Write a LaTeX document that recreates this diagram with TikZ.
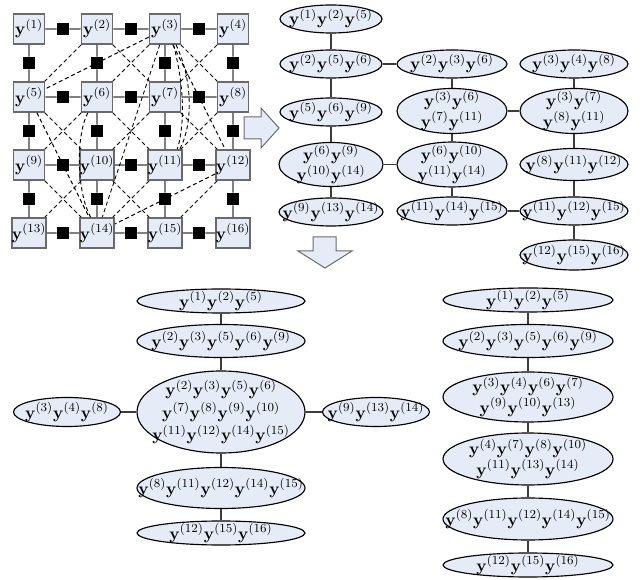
\documentclass[tikz,border=0pt]{standalone}
\usepackage{amsmath}
\usetikzlibrary{shapes.geometric,calc}
\definecolor{nodefill}{HTML}{E6ECF7}
\definecolor{boxline}{HTML}{6A6A6A}
\definecolor{edgegray}{HTML}{3C3C3C}
\newcommand{\yv}[1]{\mathbf{y}^{(#1)}}
\begin{document}
\begin{tikzpicture}[x=0.653pt,y=-0.653pt,
  px/.style 2 args={minimum width=#1*0.653pt, minimum height=#2*0.653pt},
  labelfont/.style={font=\fontsize{10.95}{12}\selectfont},
  var/.style={draw=boxline, line width=1pt, fill=nodefill, inner sep=0pt, px={31}{30}, labelfont},
  fac/.style={fill=black, inner sep=0pt, px={12}{12}},
  link/.style={draw=edgegray, line width=0.85pt},
  fill edge/.style={draw=black, line width=0.6pt, dash pattern=on 2.6pt off 1.9pt},
  clq/.style={ellipse, draw=black, line width=0.75pt, fill=nodefill, inner sep=0pt},
  cltext/.style={align=center, inner sep=0pt, labelfont},
  tree/.style={draw=edgegray, line width=0.85pt},
  bigarrow/.style={draw=boxline, line width=0.65pt, fill=nodefill}
]
\useasboundingbox (0,0) rectangle (644,580);

% ---- grid of variables with pairwise factors ----
\foreach \r in {0,...,3}
  \foreach \c in {1,...,4} {
    \pgfmathtruncatemacro\k{4*\r+\c}
    \node[var] (g\k) at ({29+68*(\c-1)},{29+68*\r}) {$\yv{\k}$};
  }
\foreach \r in {0,...,3}
  \foreach \c in {1,2,3} {
    \pgfmathtruncatemacro\a{4*\r+\c}
    \pgfmathtruncatemacro\b{\a+1}
    \node[fac] (fh\a) at ($(g\a)!0.5!(g\b)$) {};
    \draw[link] (g\a) -- (fh\a) -- (g\b);
  }
\foreach \r in {0,1,2}
  \foreach \c in {1,...,4} {
    \pgfmathtruncatemacro\a{4*\r+\c}
    \pgfmathtruncatemacro\b{\a+4}
    \node[fac] (fv\a) at ($(g\a)!0.5!(g\b)$) {};
    \draw[link] (g\a) -- (fv\a) -- (g\b);
  }

% ---- fill-in edges ----
\foreach \a/\b in {2/5,3/5,2/7,3/6,3/14,3/8,3/12,4/7,5/10,5/14,6/9,6/11,7/10,7/12,8/11,9/14,10/13,10/15,11/14,12/14,12/15}
  \draw[fill edge] (g\a) -- (g\b);
\draw[fill edge] (g3.-62) .. controls (183,80) and (186,120) .. (g11.52);
\draw[fill edge] (g3.-55) .. controls (193,80) and (193,125) .. (g11.47);
\draw[fill edge] (g6.-120) .. controls (76,135) and (76,190) .. (g14.112);

% ---- block arrows ----
\draw[bigarrow] (244,117) -- (261,117) -- (261,108) -- (279,128) -- (261,148) -- (261,139) -- (244,139) -- cycle;
\draw[bigarrow] (313,237) -- (336,237) -- (336,251) -- (352,251) -- (325,268) -- (298,251) -- (313,251) -- cycle;

% ---- first clique tree ----
\node[clq, px={102}{28}, label={[cltext]center:{$\yv{1}\yv{2}\yv{5}$}}] (tA1) at (331,19) {};
\node[clq, px={102}{28}, label={[cltext]center:{$\yv{2}\yv{5}\yv{6}$}}] (tA2) at (331,64) {};
\node[clq, px={102}{28}, label={[cltext]center:{$\yv{5}\yv{6}\yv{9}$}}] (tA3) at (331,112) {};
\node[clq, px={104}{44}, label={[cltext]center:{$\yv{6}\yv{9}$\\$\yv{10}\yv{14}$}}] (tA4) at (331,164.5) {};
\node[clq, px={104}{28}, label={[cltext]center:{$\yv{9}\yv{13}\yv{14}$}}] (tA5) at (331,212) {};

\node[clq, px={110}{28}, label={[cltext]center:{$\yv{2}\yv{3}\yv{6}$}}] (tB1) at (452,64) {};
\node[clq, px={110}{45}, label={[cltext]center:{$\yv{3}\yv{6}$\\$\yv{7}\yv{11}$}}] (tB2) at (452,111) {};
\node[clq, px={110}{45}, label={[cltext]center:{$\yv{6}\yv{10}$\\$\yv{11}\yv{14}$}}] (tB3) at (452,164.5) {};
\node[clq, px={110}{28}, label={[cltext]center:{$\yv{11}\yv{14}\yv{15}$}}] (tB4) at (452,211) {};

\node[clq, px={108}{28}, label={[cltext]center:{$\yv{3}\yv{4}\yv{8}$}}] (tC1) at (574,64) {};
\node[clq, px={108}{45}, label={[cltext]center:{$\yv{3}\yv{7}$\\$\yv{8}\yv{11}$}}] (tC2) at (574,111) {};
\node[clq, px={108}{32}, label={[cltext]center:{$\yv{8}\yv{11}\yv{12}$}}] (tC3) at (574,164.5) {};
\node[clq, px={108}{28}, label={[cltext]center:{$\yv{11}\yv{12}\yv{15}$}}] (tC4) at (574,211) {};
\node[clq, px={108}{30}, label={[cltext]center:{$\yv{12}\yv{15}\yv{16}$}}] (tC5) at (574,255) {};

\draw[tree] (tA1) -- (tA2) -- (tA3) -- (tA4) -- (tA5);
\draw[tree] (tB1) -- (tB2) -- (tB3) -- (tB4);
\draw[tree] (tC1) -- (tC2) -- (tC3) -- (tC4) -- (tC5);
\draw[tree] (tA2) -- (tB1);
\draw[tree] (tA4) -- (tB3);
\draw[tree] (tB2) -- (tC2);
\draw[tree] (tB4) -- (tC4);

% ---- second clique tree ----
\node[clq, px={168}{24}, label={[cltext]center:{$\yv{1}\yv{2}\yv{5}$}}] (bL1) at (221,301) {};
\node[clq, px={168}{33}, label={[cltext]center:{$\yv{2}\yv{3}\yv{5}\yv{6}\yv{9}$}}] (bL2) at (221,341) {};
\node[clq, px={168}{82}, label={[cltext]center:{$\yv{2}\yv{3}\yv{5}\yv{6}$\\[1.6pt]$\yv{7}\yv{8}\yv{9}\yv{10}$\\[1.6pt]$\yv{11}\yv{12}\yv{14}\yv{15}$}}] (bL3) at (221,412) {};
\node[clq, px={168}{41}, label={[cltext]center:{$\yv{8}\yv{11}\yv{12}\yv{14}\yv{15}$}}] (bL4) at (221,488) {};
\node[clq, px={168}{24}, label={[cltext]center:{$\yv{12}\yv{15}\yv{16}$}}] (bL5) at (221,533) {};
\node[clq, px={107}{29}, label={[cltext]center:{$\yv{3}\yv{4}\yv{8}$}}] (bL6) at (67,412) {};
\node[clq, px={107}{29}, label={[cltext]center:{$\yv{9}\yv{13}\yv{14}$}}] (bL7) at (376,412) {};
\draw[tree] (bL1) -- (bL2) -- (bL3) -- (bL4) -- (bL5);
\draw[tree] (bL6) -- (bL3) -- (bL7);

% ---- third clique tree ----
\node[clq, px={170}{24}, label={[cltext]center:{$\yv{1}\yv{2}\yv{5}$}}] (bR1) at (528,300) {};
\node[clq, px={170}{33}, label={[cltext]center:{$\yv{2}\yv{3}\yv{5}\yv{6}\yv{9}$}}] (bR2) at (528,341) {};
\node[clq, px={170}{50}, label={[cltext]center:{$\yv{3}\yv{4}\yv{6}\yv{7}$\\$\yv{9}\yv{10}\yv{13}$}}] (bR3) at (528,397) {};
\node[clq, px={170}{52}, label={[cltext]center:{$\yv{4}\yv{7}\yv{8}\yv{10}$\\$\yv{11}\yv{13}\yv{14}$}}] (bR4) at (528,459) {};
\node[clq, px={170}{42}, label={[cltext]center:{$\yv{8}\yv{11}\yv{12}\yv{14}\yv{15}$}}] (bR5) at (528,519) {};
\node[clq, px={170}{24}, label={[cltext]center:{$\yv{12}\yv{15}\yv{16}$}}] (bR6) at (528,565) {};
\draw[tree] (bR1) -- (bR2) -- (bR3) -- (bR4) -- (bR5) -- (bR6);
\end{tikzpicture}
\end{document}
